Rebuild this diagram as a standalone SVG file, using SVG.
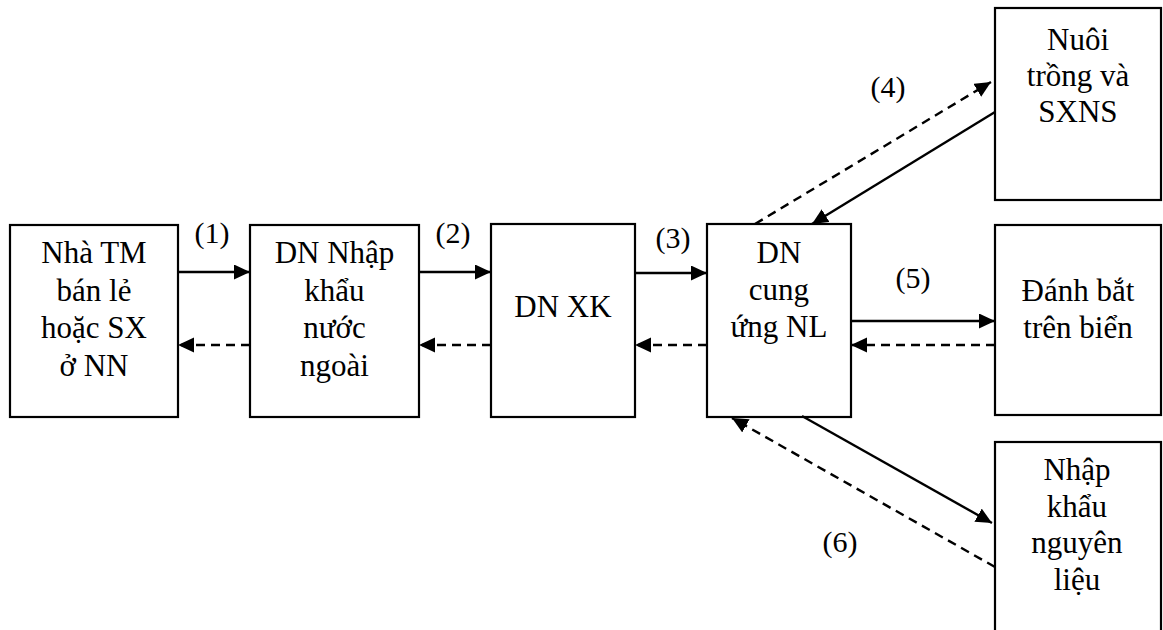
<svg xmlns="http://www.w3.org/2000/svg" width="1163" height="630" viewBox="0 0 1163 630">
<style>
.box{fill:#fff;stroke:#000;stroke-width:2.2}
text{font-family:'Liberation Serif','Times New Roman',serif;fill:#000;text-anchor:middle}
.t{font-size:31px}
.lbl{font-size:30px}
.s{stroke:#000;stroke-width:2.4;fill:none;marker-end:url(#ah)}
.d{stroke:#000;stroke-width:2.4;fill:none;stroke-dasharray:9 6;marker-end:url(#ah)}
</style>
<defs>
<marker id="ah" markerUnits="userSpaceOnUse" markerWidth="18" markerHeight="16" refX="16" refY="7.5" orient="auto">
<path d="M0,0 L16,7.5 L0,15 z" fill="#000"/>
</marker>
</defs>
<rect width="1163" height="630" fill="#fff"/>
<g id="n1"><rect class="box" x="10" y="225" width="168" height="192"/>
<text class="t" x="94" y="263">Nhà TM</text><text class="t" x="94" y="301">bán lẻ</text><text class="t" x="94" y="338">hoặc SX</text><text class="t" x="94" y="376">ở NN</text></g>
<g id="n2"><rect class="box" x="250" y="225" width="169" height="192"/>
<text class="t" x="334.5" y="263">DN Nhập</text><text class="t" x="334.5" y="301">khẩu</text><text class="t" x="334.5" y="338">nước</text><text class="t" x="334.5" y="376">ngoài</text></g>
<g id="n3"><rect class="box" x="491" y="224" width="144" height="193"/>
<text class="t" x="563" y="317">DN XK</text></g>
<g id="n4"><rect class="box" x="707" y="224" width="144" height="193"/>
<text class="t" x="779" y="263">DN</text><text class="t" x="779" y="300">cung</text><text class="t" x="779" y="337">ứng NL</text></g>
<g id="n5"><rect class="box" x="995" y="8" width="166" height="192"/>
<text class="t" x="1078" y="50">Nuôi</text><text class="t" x="1078" y="86">trồng và</text><text class="t" x="1078" y="122">SXNS</text></g>
<g id="n6"><rect class="box" x="995" y="225" width="166" height="190"/>
<text class="t" x="1078" y="301">Đánh bắt</text><text class="t" x="1078" y="338">trên biển</text></g>
<g id="n7"><rect class="box" x="995" y="442" width="166" height="210"/>
<text class="t" x="1077" y="480">Nhập</text><text class="t" x="1077" y="517">khẩu</text><text class="t" x="1077" y="553">nguyên</text><text class="t" x="1077" y="590">liệu</text></g>
<g id="connectors">
<line class="s" x1="178" y1="272" x2="250" y2="272"/>
<line class="d" x1="250" y1="345" x2="178" y2="345"/>
<line class="s" x1="419" y1="272" x2="491" y2="272"/>
<line class="d" x1="491" y1="345" x2="419" y2="345"/>
<line class="s" x1="635" y1="273" x2="707" y2="273"/>
<line class="d" x1="707" y1="345" x2="635" y2="345"/>
<line class="s" x1="851" y1="321" x2="995" y2="321"/>
<line class="d" x1="995" y1="345" x2="851" y2="345"/>
<line class="d" x1="755" y1="224" x2="991" y2="82"/>
<line class="s" x1="995" y1="112" x2="812" y2="224"/>
<line class="s" x1="802" y1="416" x2="992" y2="523"/>
<line class="d" x1="995" y1="567" x2="732" y2="418"/>
</g>
<g id="labels">
<text class="lbl" x="212" y="243">(1)</text>
<text class="lbl" x="453" y="243">(2)</text>
<text class="lbl" x="673" y="248">(3)</text>
<text class="lbl" x="888" y="97">(4)</text>
<text class="lbl" x="913" y="288">(5)</text>
<text class="lbl" x="840" y="552">(6)</text>
</g>
</svg>
